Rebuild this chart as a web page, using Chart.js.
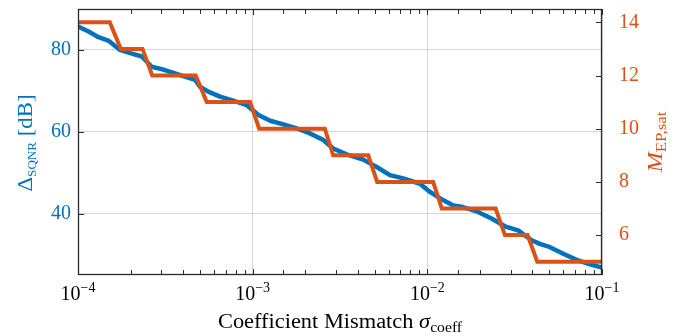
<!DOCTYPE html>
<html lang="en">
<head>
<meta charset="UTF-8">
<title>SQNR vs coefficient mismatch</title>
<script src="https://cdn.jsdelivr.net/npm/chart.js@4.4.1/dist/chart.umd.min.js"></script>
<style>
  body { margin: 0; background: #fff; }
  #wrap { width: 681px; height: 336px; position: relative; }
</style>
</head>
<body>
<div id="wrap"><canvas id="myChart"></canvas></div>
<script>
// blue curve: Delta SQNR [dB] vs coefficient mismatch
const sigmaBlue = [1.00e-4, 1.15e-4, 1.31e-4, 1.49e-4, 1.74e-4, 1.99e-4, 2.32e-4, 2.64e-4, 3.01e-4, 3.52e-4,
  4.09e-4, 4.68e-4, 4.99e-4, 5.57e-4, 6.50e-4, 7.74e-4, 9.25e-4, 9.86e-4, 1.08e-3, 1.26e-3, 1.50e-3, 1.79e-3,
  2.13e-3, 2.54e-3, 2.89e-3, 3.45e-3, 4.30e-3, 5.13e-3, 6.11e-3, 7.28e-3, 9.08e-3, 1.035e-2, 1.23e-2,
  1.41e-2, 1.60e-2, 1.95e-2, 2.33e-2, 2.78e-2, 3.31e-2, 3.95e-2, 4.41e-2, 5.04e-2, 6.00e-2, 7.16e-2, 8.53e-2, 1.00e-1]
const sqnrDelta = [85.7, 84.5, 83.1, 82.3, 80.0, 79.2, 78.4, 75.9, 75.3, 74.4,
  73.5, 72.7, 71.0, 69.8, 68.6, 67.6, 66.5, 65.5, 64.1, 62.7, 61.8, 60.8,
  59.6, 58.0, 55.9, 54.5, 53.2, 51.4, 49.4, 48.6, 47.3, 45.3, 43.3,
  42.0, 41.6, 40.4, 38.8, 36.9, 35.9, 33.5, 32.6, 31.8, 30.2, 28.7, 27.6, 26.8]

// orange staircase: M_EP,sat
const sigmaSteps = [1.00e-4, 1.52e-4, 1.76e-4, 2.34e-4, 2.66e-4, 4.72e-4, 5.46e-4, 9.66e-4, 1.09e-3, 2.59e-3,
  2.89e-3, 4.59e-3, 5.16e-3, 1.08e-2, 1.21e-2, 2.46e-2, 2.78e-2, 3.75e-2, 4.26e-2, 1.00e-1]
const mSat = [14, 14, 13, 13, 12, 12, 11, 11, 10, 10, 9, 9, 8, 8, 7, 7, 6, 6, 5, 5]

const xDecades = [1e-4, 1e-3, 1e-2, 1e-1]
const xTickExponents = ['−4', '−3', '−2', '−1']   // labels read as 10^exp
const leftTicks = [40, 60, 80]
const rightTicks = [6, 8, 10, 12, 14]

const blue = '#0072BD'
const orange = '#D95319'
const gridGray = '#d6d6d6'
const serif = "'Liberation Serif', 'DejaVu Serif', serif"

const isDecade = v => xDecades.some(d => Math.abs(Math.log10(v / d)) < 1e-6)

// draw a run of [text, font, dy] pieces starting at x
function drawPieces(ctx, pieces, x, y) {
    pieces.forEach(p => {
        ctx.font = p[1]
        ctx.fillText(p[0], x, y + p[2])
        x += ctx.measureText(p[0]).width
    })
}
function piecesWidth(ctx, pieces) {
    let w = 0
    pieces.forEach(p => { ctx.font = p[1]; w += ctx.measureText(p[0]).width })
    return w
}
// centered, horizontally stretched a bit (Computer Modern is wider than Times)
function drawTitle(ctx, pieces, cx, cy, angle, stretch) {
    ctx.save()
    ctx.translate(cx, cy)
    ctx.rotate(angle)
    ctx.scale(stretch, 1)
    drawPieces(ctx, pieces, -piecesWidth(ctx, pieces) / 2, 0)
    ctx.restore()
}

const framePlugin = {
    id: 'frame',
    afterDraw(chart) {
        const { ctx, chartArea: { left, right, top, bottom }, scales: { x, y, y1 } } = chart
        ctx.save()
        ctx.strokeStyle = '#2b2b2b'
        ctx.lineWidth = 1
        ctx.beginPath()
        x.ticks.forEach(t => {
            const px = Math.round(x.getPixelForValue(t.value)) + 0.5
            const len = isDecade(t.value) ? 6 : 5
            ctx.moveTo(px, bottom); ctx.lineTo(px, bottom - len)
            ctx.moveTo(px, top); ctx.lineTo(px, top + len)
        })
        y.ticks.forEach(t => {
            const py = Math.round(y.getPixelForValue(t.value)) + 0.5
            ctx.moveTo(left, py); ctx.lineTo(left + 6, py)
        })
        y1.ticks.forEach(t => {
            const py = Math.round(y1.getPixelForValue(t.value)) + 0.5
            ctx.moveTo(right, py); ctx.lineTo(right - 6, py)
        })
        ctx.stroke()
        ctx.lineWidth = 1.3
        ctx.strokeRect(left + 0.5, top + 0.5, right - left - 1, bottom - top - 1)

        ctx.textBaseline = 'alphabetic'
        ctx.textAlign = 'left'
        ctx.fillStyle = '#000'

        // x tick labels 10^n
        xDecades.forEach((d, i) => {
            const lab = [['10', '20px ' + serif, 0], [xTickExponents[i], '14px ' + serif, -8]]
            const w = piecesWidth(ctx, lab)
            drawPieces(ctx, lab, x.getPixelForValue(d) - w / 2, 300)
        })

        // axis titles
        const big = '20px ' + serif, bigIt = 'italic 20px ' + serif, sub = '14px ' + serif
        const xt = [['Coefficient Mismatch ', big, 0], ['σ', bigIt, 0], ['coeff', sub, 4]]
        drawTitle(ctx, xt, (left + right) / 2, 328, 0, 1.12)

        const lt = [['Δ', big, 0], ['SQNR', '11.5px ' + serif, 4], [' [dB]', big, 0]]
        ctx.fillStyle = blue
        drawTitle(ctx, lt, 32, (top + bottom) / 2 + 1, -Math.PI / 2, 1.14)

        const rt = [['M', bigIt, 0], ['EP,sat', sub, 4]]
        ctx.fillStyle = orange
        drawTitle(ctx, rt, 662, (top + bottom) / 2, -Math.PI / 2, 1.2)
        ctx.restore()
    }
}

const ctx = document.getElementById('myChart').getContext('2d')
new Chart(ctx, {
    type: 'line',
    data: {
        datasets: [{
            label: 'M_EP,sat',
            data: sigmaSteps.map((s, i) => ({ x: s, y: mSat[i] })),
            yAxisID: 'y1',
            borderColor: orange,
            borderWidth: 4,
            borderJoinStyle: 'miter',
            pointRadius: 0,
            order: 0
        }, {
            label: 'Delta SQNR',
            data: sigmaBlue.map((s, i) => ({ x: s, y: sqnrDelta[i] })),
            yAxisID: 'y',
            borderColor: blue,
            borderWidth: 4.5,
            borderJoinStyle: 'round',
            pointRadius: 0,
            order: 1
        }]
    },
    options: {
        responsive: true,
        maintainAspectRatio: false,
        animation: false,
        layout: { padding: { top: 9, left: 0, right: 0, bottom: 0 } },
        plugins: { legend: { display: false }, tooltip: { enabled: false } },
        scales: {
            x: {
                type: 'logarithmic',
                min: 1e-4,
                max: 1e-1,
                afterFit: s => { s.height = 61; s.paddingLeft = 0; s.paddingRight = 0 },
                border: { display: false },
                grid: { color: c => (c.tick && isDecade(c.tick.value)) ? gridGray : 'transparent', drawTicks: false },
                // labels are drawn by the frame plugin with a raised exponent
                ticks: { autoSkip: false, maxRotation: 0, callback: () => '' }
            },
            y: {
                position: 'left',
                min: 25,
                max: 90,
                afterBuildTicks: s => { s.ticks = leftTicks.map(v => ({ value: v })) },
                afterFit: s => { s.width = 78; s.paddingTop = 0; s.paddingBottom = 0 },
                border: { display: false },
                grid: { color: gridGray, drawTicks: false },
                ticks: { padding: 7, color: blue, font: { family: serif, size: 20 } }
            },
            y1: {
                position: 'right',
                min: 4.5,
                max: 14.5,
                afterBuildTicks: s => { s.ticks = rightTicks.map(v => ({ value: v })) },
                afterFit: s => { s.width = 79; s.paddingTop = 0; s.paddingBottom = 0 },
                border: { display: false },
                grid: { display: false },
                ticks: { padding: 9, color: orange, font: { family: serif, size: 20 } }
            }
        }
    },
    plugins: [framePlugin]
})
</script>
</body>
</html>
